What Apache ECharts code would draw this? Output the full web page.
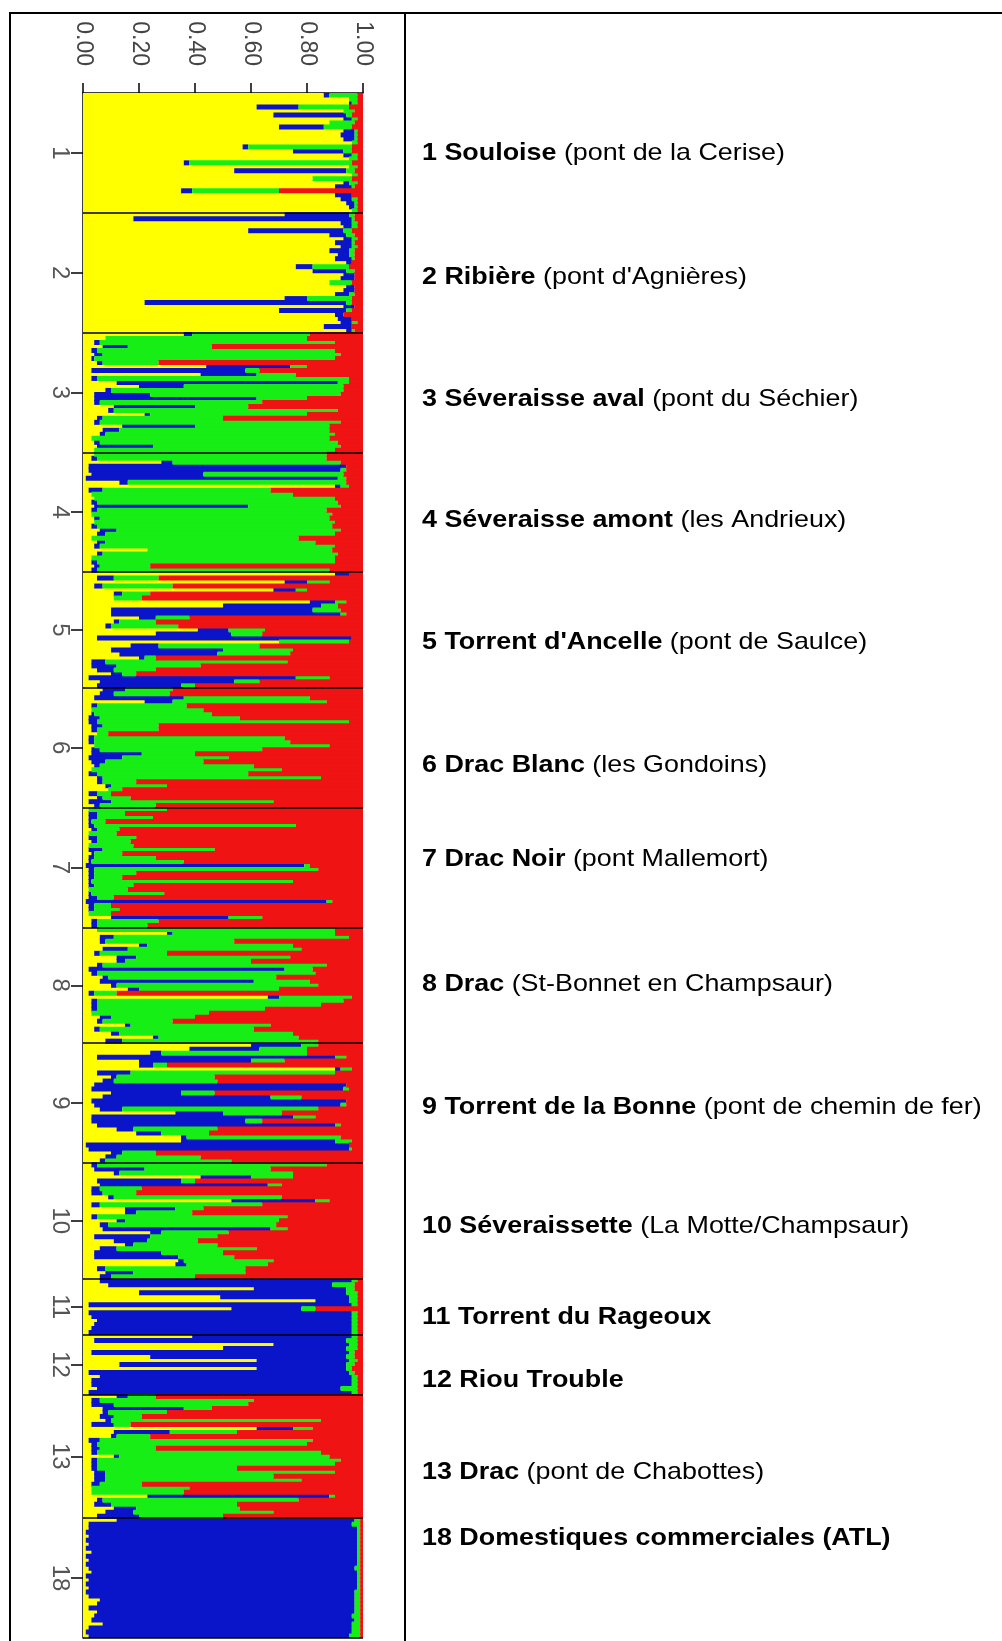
<!DOCTYPE html>
<html>
<head>
<meta charset="utf-8">
<script src="https://cdn.jsdelivr.net/npm/echarts@6/dist/echarts.min.js"></script>
<style>
  html, body { margin: 0; padding: 0; background: #fff; }
  #chart { width: 1002px; height: 1641px; }
</style>
</head>
<body>
<div id="chart"></div>
<script>
// Membership of each individual in the four clusters, in percent:
// [yellow, blue, green, red], one row per fish, top to bottom.
const pop1 = [[86,2,10,2],[95,0,3,2],[95,1,2,2],[62,15,18,5],[93,0,4,3],[68,26,2,4],[93,3,2,2],[88,0,9,3],[70,16,10,4],[93,4,1,2],[92,5,1,2],[93,4,1,2],[96,0,2,2],[57,2,37,4],[75,18,3,4],[93,3,2,2],[95,0,3,2],[36,2,58,4],[95,0,3,2],[54,40,3,3],[96,0,2,2],[82,0,14,4],[93,2,3,2],[90,6,1,3],[35,4,31,30],[90,6,0,4],[92,4,2,2],[94,3,1,2],[95,2,1,2],[96,0,2,2]];
const pop2 = [[72,23,2,3],[18,78,1,3],[92,4,2,2],[93,3,2,2],[59,34,3,4],[88,6,3,3],[93,3,2,2],[90,6,1,3],[92,4,2,2],[88,7,2,3],[91,4,2,3],[90,6,1,3],[94,2,0,4],[76,6,13,5],[82,12,3,3],[93,4,0,3],[92,5,0,3],[88,0,8,4],[94,3,0,3],[93,4,0,3],[90,5,2,3],[72,8,16,4],[22,72,2,4],[93,4,0,3],[70,24,2,4],[90,3,0,7],[91,5,0,4],[92,4,2,2],[86,10,0,4],[94,2,1,3]];
const pop3 = [[36,3,42,19],[8,0,72,20],[4,2,84,10],[7,9,30,54],[3,2,85,10],[4,3,85,8],[3,1,86,10],[5,2,20,73],[44,30,6,20],[3,55,5,37],[42,20,14,24],[3,2,90,5],[12,79,4,5],[20,16,57,7],[8,2,83,7],[4,20,68,8],[4,58,18,20],[4,2,58,36],[11,29,19,41],[9,2,80,9],[22,2,56,20],[5,2,43,50],[4,2,86,8],[14,26,48,12],[7,6,75,12],[6,2,82,10],[3,0,85,12],[4,2,85,9],[5,20,67,8],[4,0,86,10]];
const pop4 = [[4,0,83,13],[3,2,82,13],[28,4,60,8],[2,92,0,6],[2,90,2,6],[3,40,50,7],[1,90,3,6],[13,3,78,6],[90,2,3,5],[2,5,60,33],[3,0,72,25],[4,0,86,10],[3,2,86,9],[4,55,33,8],[3,2,82,13],[3,0,86,11],[4,2,82,12],[4,0,86,10],[3,2,84,11],[6,6,80,8],[5,3,82,10],[3,0,74,23],[5,3,75,17],[4,2,84,10],[23,0,66,11],[5,2,84,9],[3,0,87,10],[3,2,85,10],[4,2,18,76],[3,2,83,12]];
const pop5 = [[90,5,0,5],[5,6,16,73],[72,8,8,12],[4,3,25,68],[68,8,4,20],[11,3,10,76],[11,0,10,79],[81,9,4,6],[50,35,6,9],[10,72,10,8],[10,82,2,6],[20,6,12,62],[11,2,13,74],[8,2,24,66],[41,11,13,35],[26,27,11,36],[5,91,0,4],[70,0,25,5],[17,10,36,37],[10,40,25,25],[13,35,26,26],[20,2,4,74],[3,5,65,27],[3,9,30,58],[5,6,15,74],[10,4,5,81],[2,74,12,12],[6,48,9,37],[5,30,5,60]];
const pop6 = [[7,8,17,68],[6,5,20,69],[4,32,45,19],[22,10,55,13],[3,2,32,63],[3,0,40,57],[3,1,42,54],[2,4,50,44],[2,3,90,5],[3,4,20,73],[3,2,22,73],[5,0,4,91],[2,2,68,28],[2,2,70,26],[4,0,84,12],[3,3,58,36],[3,18,19,60],[2,12,38,48],[3,5,35,57],[4,2,55,39],[3,0,68,29],[2,3,54,41],[5,2,78,15],[5,2,12,81],[8,2,20,70],[9,0,5,86],[2,3,5,90],[5,2,10,83],[2,8,58,32],[4,2,20,74]];
const pop7 = [[2,0,28,70],[2,3,10,85],[2,3,20,75],[2,1,5,92],[2,2,72,24],[3,2,8,87],[2,0,10,88],[2,3,14,81],[3,2,12,83],[2,0,16,82],[2,5,40,53],[3,1,10,86],[2,2,22,74],[2,1,33,64],[1,78,2,19],[2,2,80,16],[2,2,15,81],[2,2,10,86],[2,1,72,25],[2,2,14,82],[2,0,14,84],[2,1,26,71],[2,3,6,89],[1,86,2,11],[2,2,6,90],[2,2,9,87],[2,0,8,90],[10,42,12,36],[3,2,22,73],[3,2,18,77]];
const pop8 = [[5,0,85,10],[30,2,58,10],[6,5,84,5],[6,2,46,46],[20,3,52,25],[7,9,62,22],[4,2,24,70],[12,7,55,26],[12,3,45,40],[5,2,80,13],[2,70,10,18],[3,2,78,17],[7,2,60,31],[6,55,20,19],[10,2,72,16],[16,4,50,30],[2,2,8,88],[66,4,26,4],[3,2,88,7],[3,2,80,15],[3,2,60,35],[3,0,42,55],[6,4,30,60],[5,2,25,68],[15,2,50,33],[4,2,55,39],[10,3,62,25],[25,2,50,23],[8,6,70,16]];
const pop9 = [[60,18,6,16],[38,25,17,20],[24,4,52,20],[5,85,4,6],[20,40,12,28],[20,5,5,70],[90,2,4,4],[5,12,73,10],[10,2,35,53],[7,4,37,52],[4,90,0,6],[3,90,2,5],[10,25,12,53],[7,60,11,22],[3,91,0,6],[4,88,2,6],[6,8,70,16],[33,17,21,29],[3,72,8,17],[3,55,6,36],[5,85,2,8],[12,6,30,52],[19,9,17,55],[35,2,55,8],[35,55,6,4],[1,94,0,5],[2,93,1,4],[10,4,12,74],[8,4,30,58],[6,2,45,47]];
const pop10 = [[3,2,82,13],[4,18,45,33],[11,2,62,25],[42,18,15,25],[5,30,5,60],[6,60,5,29],[3,3,15,79],[3,4,12,81],[9,2,60,29],[53,30,5,12],[3,3,58,36],[15,18,10,57],[15,4,20,61],[3,2,68,27],[12,3,55,30],[6,3,60,31],[7,60,6,27],[24,4,24,48],[4,20,24,52],[11,12,18,59],[15,3,30,52],[6,6,50,38],[4,24,22,50],[4,30,20,46],[34,2,32,32],[33,4,29,34],[5,3,50,42],[8,10,40,42],[6,4,30,60]];
const pop11 = [[6,90,2,2],[9,80,8,3],[61,33,3,3],[20,74,4,2],[49,46,3,2],[83,12,3,2],[2,94,2,2],[53,25,5,17],[2,94,2,2],[3,93,2,2],[5,91,2,2],[4,92,2,2],[3,93,2,2],[2,94,2,2]];
const pop12 = [[39,57,2,2],[4,90,4,2],[68,27,3,2],[50,44,4,2],[3,92,2,3],[24,70,3,3],[62,33,3,2],[13,81,3,3],[62,32,2,4],[2,93,2,3],[6,90,2,2],[3,93,2,2],[3,93,2,2],[5,87,6,2],[2,94,2,2]];
const pop13 = [[12,4,10,74],[3,3,55,39],[3,8,48,41],[7,29,10,54],[7,2,21,70],[6,5,10,79],[8,2,75,15],[3,8,6,83],[62,13,7,18],[11,20,24,45],[10,2,12,76],[2,4,76,18],[3,2,75,20],[3,3,20,74],[3,2,80,15],[11,2,75,12],[3,2,87,8],[3,2,85,10],[3,2,50,45],[4,4,82,10],[4,4,60,32],[4,4,70,22],[3,3,15,79],[3,0,35,62],[3,0,33,64],[23,65,2,10],[5,2,70,23],[4,6,45,45],[11,8,37,44],[8,10,50,32],[5,15,30,50]];
const pop18 = [[12,85,2,1],[2,94,3,1],[2,96,1,1],[1,97,1,1],[2,96,1,1],[1,97,1,1],[2,96,1,1],[1,97,1,1],[3,95,1,1],[1,97,1,1],[2,96,1,1],[1,97,1,1],[2,95,2,1],[3,95,1,1],[1,97,1,1],[2,96,1,1],[1,97,1,1],[2,96,1,1],[1,96,2,1],[2,95,2,1],[6,91,2,1],[5,92,2,1],[2,95,2,1],[5,92,2,1],[4,92,3,1],[3,94,2,1],[7,89,3,1],[2,94,3,1],[1,95,3,1],[2,93,4,1]];

const populations = [pop1, pop2, pop3, pop4, pop5, pop6, pop7, pop8, pop9, pop10, pop11, pop12, pop13, pop18];
const popCodes = ['1', '2', '3', '4', '5', '6', '7', '8', '9', '10', '11', '12', '13', '18'];
const popNames = ['1 Souloise', '2 Ribière', '3 Séveraisse aval', '4 Séveraisse amont', "5 Torrent d'Ancelle", '6 Drac Blanc', '7 Drac Noir', '8 Drac', '9 Torrent de la Bonne', '10 Séveraissette', '11 Torrent du Rageoux', '12 Riou Trouble', '13 Drac', '18 Domestiques commerciales (ATL)'];
const popSites = ['(pont de la Cerise)', "(pont d'Agnières)", '(pont du Séchier)', '(les Andrieux)', '(pont de Saulce)', '(les Gondoins)', '(pont Mallemort)', '(St-Bonnet en Champsaur)', '(pont de chemin de fer)', '(La Motte/Champsaur)', '', '', '(pont de Chabottes)', ''];
const clusterColors = ['#ffff00', '#0a14c8', '#16ee16', '#ef1313'];

// Vertical position of each population caption in the right-hand column (px)
const captionY = [153, 277, 399, 520, 642, 765, 859, 984, 1107, 1226, 1317, 1380, 1472, 1538];

// Flatten the populations into one row per individual
const rows = [];
const bounds = [];
const centers = [];
populations.forEach(p => {
  const start = rows.length;
  p.forEach(r => rows.push(r));
  centers.push(start + p.length / 2);
  bounds.push(rows.length);
});
const total = rows.length;
const categories = rows.map((_, i) => String(i));

// Bars are a little taller than one band so neighbouring rows overlap
// and no hairline gaps show between individuals.
const series = clusterColors.map((c, k) => ({
  type: 'bar',
  stack: 'q',
  yAxisIndex: 0,
  barWidth: 5,
  silent: true,
  itemStyle: { color: c, borderWidth: 0 },
  data: rows.map(r => r[k] / (r[0] + r[1] + r[2] + r[3]))
}));

// population separators
series.push({
  type: 'line',
  yAxisIndex: 1,
  data: [],
  silent: true,
  markLine: {
    silent: true,
    symbol: 'none',
    label: { show: false },
    lineStyle: { color: '#000', width: 1.6, type: 'solid' },
    data: bounds.map(v => ({ yAxis: v }))
  }
});

const fontFamily = '"Liberation Sans", Arial, Helvetica, sans-serif';

const graphic = [
  { type: 'line', shape: { x1: 9, y1: 13, x2: 1002, y2: 13 }, style: { stroke: '#000', lineWidth: 2 } },
  { type: 'line', shape: { x1: 10, y1: 12, x2: 10, y2: 1641 }, style: { stroke: '#000', lineWidth: 2 } },
  { type: 'line', shape: { x1: 405, y1: 12, x2: 405, y2: 1641 }, style: { stroke: '#000', lineWidth: 2 } }
];
popNames.forEach((name, i) => {
  const site = popSites[i];
  graphic.push({
    type: 'text',
    x: 422,
    y: captionY[i],
    scaleX: 1.12,
    style: {
      text: '{b|' + name + '}' + (site ? ' {n|' + site + '}' : ''),
      verticalAlign: 'middle',
      fill: '#000',
      font: '24px ' + fontFamily,
      rich: {
        b: { fontWeight: 'bold', fontSize: 24, fontFamily: fontFamily, fill: '#000' },
        n: { fontWeight: 'normal', fontSize: 24, fontFamily: fontFamily, fill: '#000' }
      }
    }
  });
});

const chart = echarts.init(document.getElementById('chart'), null, { renderer: 'canvas' });
chart.setOption({
  animation: false,
  backgroundColor: '#fff',
  grid: { left: 83, top: 93, width: 280, height: 1545, containLabel: false },
  xAxis: {
    type: 'value',
    position: 'top',
    min: 0,
    max: 1,
    interval: 0.2,
    splitLine: { show: false },
    axisLine: { show: true, lineStyle: { color: '#000', width: 1.5 } },
    axisTick: { show: true, length: 10, lineStyle: { color: '#000', width: 1.5 } },
    axisLabel: {
      rotate: -90,
      margin: 27,
      fontSize: 23,
      fontFamily: fontFamily,
      color: '#444',
      formatter: v => v.toFixed(2)
    }
  },
  yAxis: [
    {
      type: 'category',
      inverse: true,
      data: categories,
      axisLine: { show: false },
      axisTick: { show: false },
      axisLabel: { show: false },
      splitLine: { show: false }
    },
    {
      type: 'value',
      position: 'left',
      inverse: true,
      min: 0,
      max: total,
      splitLine: { show: false },
      axisLine: { show: true, lineStyle: { color: '#000', width: 1.5 } },
      axisTick: { show: true, length: 12, customValues: centers, lineStyle: { color: '#000', width: 1.5 } },
      axisLabel: {
        customValues: centers,
        rotate: -90,
        margin: 11,
        fontSize: 24,
        fontFamily: fontFamily,
        color: '#555',
        formatter: v => {
          const i = centers.findIndex(c => Math.abs(c - v) < 1e-6);
          return i >= 0 ? popCodes[i] : '';
        }
      }
    }
  ],
  series: series,
  graphic: graphic
});
</script>
</body>
</html>
